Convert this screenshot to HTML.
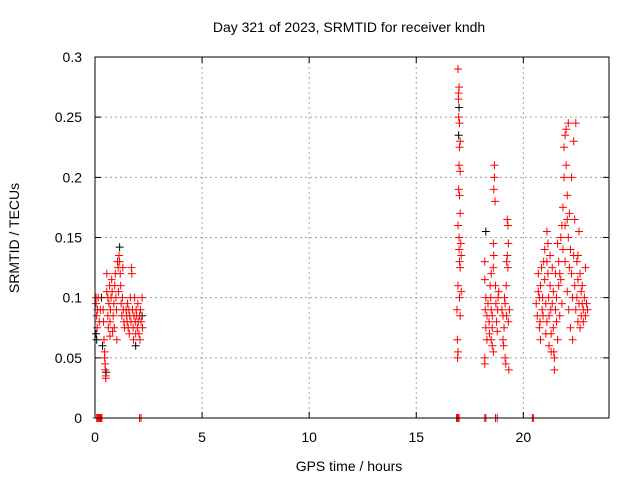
<!DOCTYPE html>
<html><head><meta charset="utf-8"><style>
html,body{margin:0;padding:0;background:#fff;}
svg{display:block;font-family:"Liberation Sans",sans-serif;}
</style></head><body>
<svg id="chart" width="640" height="480">
<rect width="640" height="480" fill="#fff"/>
<text x="349" y="32" font-size="14" text-anchor="middle">Day 321 of 2023, SRMTID for receiver kndh</text>
<text x="349" y="471" font-size="14" text-anchor="middle">GPS time / hours</text>
<text transform="translate(19,238) rotate(-90)" font-size="14" text-anchor="middle">SRMTID / TECUs</text>
<g id="grid"></g>
<g id="axes"></g>
<g id="marks"></g>
<rect x="95" y="57" width="514" height="361" fill="none" stroke="#000" stroke-width="1"/>
</svg>
<script>
const xTicks=[0,5,10,15,20];
const yTicks=[0,0.05,0.1,0.15,0.2,0.25,0.3];
const yTickLabels=["0","0.05","0.1","0.15","0.2","0.25","0.3"];
const redPoints=[[0.05,0.1],[0.05,0.095],[0.08,0.085],[0.1,0.075],[0.12,0.09],[0.15,0.1],[0.2,0.08],[0.25,0.09],
[0.38,0.09],[0.4,0.08],[0.42,0.065],[0.45,0.055],[0.45,0.05],[0.47,0.045],[0.48,0.04],[0.5,0.035],[0.5,0.033],
[0.55,0.105],[0.55,0.12],[0.6,0.1],[0.6,0.085],[0.62,0.075],[0.65,0.095],[0.68,0.11],[0.7,0.08],[0.7,0.068],[0.72,0.09],[0.75,0.1],[0.78,0.115],[0.8,0.105],[0.82,0.072],[0.85,0.085],[0.88,0.095],[0.9,0.075],[0.92,0.11],[0.95,0.12],[0.98,0.1],[1.0,0.09],[1.02,0.065],[1.05,0.13],[1.08,0.125],[1.1,0.105],[1.12,0.135],[1.15,0.13],[1.18,0.12],[1.2,0.11],[1.22,0.095],[1.25,0.085],[1.28,0.1],[1.3,0.125],[1.32,0.09],[1.35,0.08],[1.38,0.075],
[1.45,0.09],[1.48,0.085],[1.5,0.08],[1.52,0.095],[1.55,0.075],[1.58,0.09],[1.6,0.07],[1.62,0.085],[1.65,0.1],[1.68,0.08],[1.7,0.125],[1.72,0.12],[1.75,0.09],[1.78,0.075],[1.8,0.065],[1.82,0.085],[1.85,0.1],[1.88,0.08],[1.9,0.07],[1.92,0.09],[1.95,0.085],[1.98,0.075],[2.0,0.095],[2.02,0.08],[2.05,0.07],[2.08,0.085],[2.1,0.065],[2.12,0.09],[2.15,0.08],[2.2,0.1],[2.22,0.075],
[16.95,0.29],[17.0,0.275],[16.98,0.27],[16.97,0.265],[16.98,0.25],[17.02,0.245],[17.05,0.23],[17.02,0.225],[17.0,0.21],[17.05,0.205],[16.98,0.19],[17.02,0.185],[17.05,0.17],[16.95,0.16],[17.0,0.15],[17.08,0.145],[17.02,0.13],[17.05,0.125],[16.95,0.11],[17.1,0.105],[17.02,0.1],[16.9,0.09],[17.05,0.085],[16.92,0.065],[16.95,0.055],[16.93,0.05],[17.0,0.14],[17.1,0.135],
[18.2,0.13],[18.2,0.115],[18.25,0.1],[18.22,0.09],[18.3,0.085],[18.25,0.075],[18.3,0.065],[18.2,0.05],[18.2,0.045],[18.35,0.095],[18.4,0.08],[18.42,0.07],[18.45,0.11],[18.5,0.12],[18.48,0.1],[18.5,0.09],[18.55,0.085],[18.55,0.075],[18.6,0.145],[18.62,0.135],[18.65,0.2],[18.65,0.21],[18.62,0.19],[18.68,0.18],[18.6,0.125],[18.7,0.11],[18.72,0.095],[18.75,0.08],[18.78,0.072],[18.8,0.09],[18.82,0.1],[18.85,0.105],[18.55,0.06],[18.6,0.055],[18.5,0.065],
[19.0,0.09],[19.05,0.085],[19.08,0.06],[19.1,0.075],[19.12,0.1],[19.15,0.095],[19.15,0.05],[19.18,0.045],[19.2,0.11],[19.22,0.13],[19.25,0.135],[19.25,0.165],[19.28,0.16],[19.3,0.145],[19.28,0.125],[19.22,0.085],[19.3,0.08],[19.35,0.09],[19.32,0.04],[19.05,0.065],
[20.6,0.095],[20.65,0.085],[20.7,0.105],[20.7,0.12],[20.75,0.075],[20.78,0.08],[20.8,0.065],[20.8,0.11],[20.85,0.125],[20.88,0.09],[20.9,0.1],[20.92,0.085],[20.95,0.13],[21.0,0.14],[21.0,0.115],[21.05,0.095],[21.05,0.07],[21.1,0.155],[21.1,0.08],[21.15,0.12],[21.15,0.145],[21.18,0.1],[21.2,0.085],[21.2,0.06],[21.25,0.135],[21.25,0.11],[21.28,0.09],[21.3,0.07],[21.3,0.055],[21.35,0.125],[21.35,0.095],[21.4,0.105],[21.4,0.075],[21.42,0.055],[21.45,0.04],[21.45,0.05],[21.5,0.12],[21.5,0.09],[21.55,0.08],[21.55,0.1],[21.6,0.065],[21.6,0.145],[21.65,0.11],[21.65,0.13],[21.7,0.085],[21.7,0.12],[21.75,0.115],[21.75,0.15],[21.8,0.16],[21.8,0.095],[21.85,0.14],[21.85,0.175],[21.9,0.225],[21.9,0.2],[21.95,0.235],[21.95,0.13],[22.0,0.24],[22.0,0.21],[22.05,0.185],[22.05,0.105],[22.1,0.245],[22.1,0.15],[22.12,0.09],[22.15,0.17],[22.15,0.125],[22.2,0.14],[22.2,0.075],[22.25,0.12],[22.25,0.2],[22.3,0.1],[22.3,0.065],[22.35,0.23],[22.35,0.135],[22.4,0.11],[22.4,0.165],[22.45,0.09],[22.45,0.245],[22.5,0.1],[22.5,0.13],[22.55,0.08],[22.55,0.115],[22.6,0.155],[22.6,0.095],[22.65,0.12],[22.65,0.075],[22.7,0.105],[22.7,0.085],[22.75,0.11],[22.75,0.095],[22.8,0.09],[22.8,0.08],[22.85,0.1],[22.9,0.085],[22.9,0.125],[22.95,0.095],[23.0,0.09],[22.05,0.165],[21.95,0.16],[22.55,0.135],[21.1,0.13],[20.75,0.1],
[0.08,0],[0.12,0],[0.16,0],[0.2,0],[0.24,0],[0.28,0],[0.32,0],[2.08,0],[2.15,0],[16.88,0],[16.92,0],[16.96,0],[17.0,0],[18.2,0],[18.25,0],[18.7,0],[18.78,0],[20.42,0],[20.47,0]];
const blackPoints=[[0.05,0.07],[0.08,0.065],[0.35,0.06],[0.52,0.038],[1.15,0.142],[17.0,0.258],[18.25,0.155],[1.9,0.06],[2.2,0.085],[0.3,0.1],[16.98,0.235]];
const NS="http://www.w3.org/2000/svg";
const X0=95,X1=609,Y0=418,Y1=57,XMAX=24,YMAX=0.3;
function sx(t){return X0+t/XMAX*(X1-X0);}
function sy(v){return Y0-v/YMAX*(Y0-Y1);}
function mk(tag,a){const e=document.createElementNS(NS,tag);for(const k in a)e.setAttribute(k,a[k]);return e;}
const grid=document.getElementById('grid'),axes=document.getElementById('axes'),marks=document.getElementById('marks');
xTicks.forEach(t=>{const x=sx(t);
 if(t>0){const g=mk('line',{x1:x,x2:x,y1:Y1,y2:Y0,stroke:'#a0a0a0','stroke-dasharray':'2,3'});
 
 grid.appendChild(g);}
 const tk=mk('path',{d:`M${x},${Y0}v-6M${x},${Y1}v6`,stroke:'#000'});
 
 axes.appendChild(tk);
 const l=mk('text',{x:x,y:Y0+24,'font-size':14,'text-anchor':'middle'});l.textContent=t;
 
 axes.appendChild(l);});
yTicks.forEach((v,i)=>{const y=sy(v);
 if(v>0&&v<YMAX){const g=mk('line',{x1:X0,x2:X1,y1:y,y2:y,stroke:'#a0a0a0','stroke-dasharray':'2,3'});
 
 grid.appendChild(g);}
 const tk=mk('path',{d:`M${X0},${y}h6M${X1},${y}h-6`,stroke:'#000'});
 
 axes.appendChild(tk);
 const l=mk('text',{x:X0-13,y:y+5,'font-size':14,'text-anchor':'end'});l.textContent=yTickLabels[i];
 
 axes.appendChild(l);});
function plus(p,col,name){const x=sx(p[0]),y=sy(p[1]);
 const e=mk('path',{d:`M${x-4},${y}h8M${x},${y-4}v8`,stroke:col,'stroke-width':1});
 
 marks.appendChild(e);}
blackPoints.forEach(p=>plus(p,'#000','black-point'));
redPoints.forEach(p=>plus(p,'#ff0000','red-point'));
</script>
</body></html>
